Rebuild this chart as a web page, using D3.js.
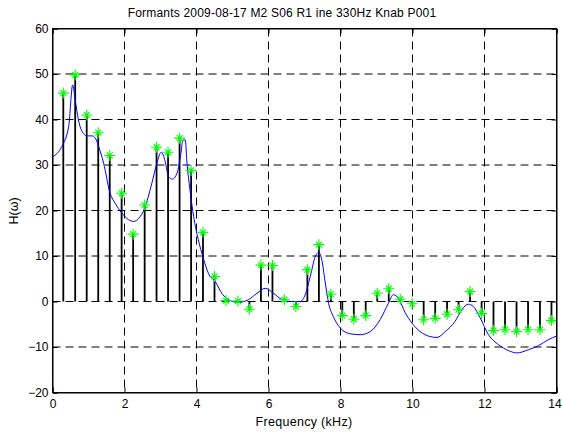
<!DOCTYPE html>
<html>
<head>
<meta charset="utf-8">
<script src="https://cdn.jsdelivr.net/npm/d3@7"></script>
<style>
	body { margin: 0; background: #fff; }
	text { font-family: "Liberation Sans", Arial, Helvetica, sans-serif; }
</style>
</head>
<body>
<script>
//harmonic frequencies (kHz) of the stems
var harmFreq = [0.30, 0.63, 0.95, 1.27, 1.59, 1.92, 2.24, 2.56, 2.89, 3.21,
	3.53, 3.85, 4.18, 4.50, 4.82, 5.15, 5.47, 5.79, 6.11, 6.44,
	6.76, 7.08, 7.40, 7.73, 8.05, 8.37, 8.70, 9.02, 9.34, 9.66,
	9.99, 10.31, 10.63, 10.96, 11.28, 11.60, 11.92, 12.25, 12.57, 12.89,
	13.21, 13.54, 13.86];

//stem heights
var harmAmp = [45.8, 49.8, 41.0, 37.1, 32.1, 23.8, 14.8, 21.2, 33.9, 32.8,
	35.9, 28.8, 15.2, 5.5, 0.2, 0.1, -1.7, 8.0, 7.9, 0.4,
	-1.1, 7.0, 12.5, 1.6, -3.1, -3.9, -3.1, 1.8, 2.8, 0.5,
	-0.5, -4.0, -3.7, -2.8, -1.8, 2.2, -2.6, -6.4, -6.2, -6.6,
	-6.2, -6.2, -4.2];

//envelope curve
var envFreq = [0, 0.26, 0.45, 0.56, 0.63, 0.72, 0.82, 0.96, 1.10, 1.19,
	1.28, 1.42, 1.60, 1.74, 1.93, 2.11, 2.25, 2.40, 2.55, 2.76,
	2.90, 3.02, 3.13, 3.22, 3.33, 3.46, 3.58, 3.62, 3.69, 3.73,
	3.83, 3.92, 4.05, 4.19, 4.33, 4.52, 4.72, 4.89, 5.17, 5.44,
	5.68, 5.91, 6.14, 6.38, 6.61, 6.88, 7.02, 7.16, 7.30, 7.39,
	7.48, 7.57, 7.67, 7.80, 7.99, 8.27, 8.55, 8.83, 9.10, 9.33,
	9.47, 9.61, 9.80, 9.98, 10.21, 10.49, 10.68, 10.91, 11.18, 11.37,
	11.55, 11.69, 11.88, 12.11, 12.39, 12.67, 12.90, 13.22, 13.50, 13.77, 14.0];
var envAmp = [31.8, 34.1, 38.5, 47.6, 44.3, 39.9, 37.4, 36.4, 36.4, 35.9,
	34.1, 30.4, 23.8, 21.6, 19.4, 18.0, 17.6, 18.3, 20.3, 26.0,
	30.4, 32.8, 30.8, 27.5, 26.9, 28.2, 33.3, 35.5, 35.5, 31.1,
	23.8, 18.7, 13.6, 9.5, 6.2, 4.4, 1.6, 0.4, -0.2, 0.4,
	1.8, 2.9, 1.8, 0.4, 0.0, 0.0, 1.5, 5.5, 9.9, 10.8,
	9.2, 4.5, -0.4, -3.3, -5.8, -7.1, -7.3, -6.6, -4.0, -0.4,
	1.5, 0.7, -2.5, -4.7, -6.6, -7.7, -7.9, -6.6, -4.4, -1.8,
	-0.6, -1.1, -3.6, -7.3, -9.5, -10.8, -11.3, -10.6, -9.7, -8.4, -7.6];

var xTicks = [0, 2, 4, 6, 8, 10, 12, 14];
var yTicks = [-20, -10, 0, 10, 20, 30, 40, 50, 60];

var titleText = "Formants 2009-08-17 M2 S06 R1 ine 330Hz Knab P001";

(function(){
	var width = 562,
		height = 432,
		plotLeft = 52.5,
		plotRight = 556.5,
		plotTop = 28.5,
		plotBottom = 392.5;

	var svg = d3.select("body")
		.append("svg")
		.attr("width", width)
		.attr("height", height);

	var x = d3.scaleLinear()
		.domain([0, 14])
		.range([plotLeft, plotRight]);

	var y = d3.scaleLinear()
		.domain([-20, 60])
		.range([plotBottom, plotTop]);

	//dashed grid
	var grid = svg.append("g").attr("class", "grid");
	grid.selectAll(".vgrid")
		.data(xTicks.slice(1, -1))
		.enter()
		.append("line")
		.attr("x1", function(d){ return x(d); })
		.attr("x2", function(d){ return x(d); })
		.attr("y1", plotTop)
		.attr("y2", plotBottom);
	grid.selectAll(".hgrid")
		.data(yTicks.slice(1, -1))
		.enter()
		.append("line")
		.attr("x1", plotLeft)
		.attr("x2", plotRight)
		.attr("y1", function(d){ return y(d); })
		.attr("y2", function(d){ return y(d); });
	grid.selectAll("line")
		.attr("stroke", "#000")
		.attr("stroke-width", 1)
		.attr("stroke-dasharray", "8,5");

	//stems
	svg.selectAll(".stem")
		.data(harmAmp)
		.enter()
		.append("line")
		.attr("class", "stem")
		.attr("x1", function(d, i){ return x(harmFreq[i]); })
		.attr("x2", function(d, i){ return x(harmFreq[i]); })
		.attr("y1", y(0))
		.attr("y2", function(d){ return y(d); })
		.attr("stroke", "#000")
		.attr("stroke-width", 1.8);

	//envelope
	var line = d3.line()
		.x(function(d, i){ return x(envFreq[i]); })
		.y(function(d){ return y(d); })
		.curve(d3.curveMonotoneX);

	svg.append("path")
		.datum(envAmp)
		.attr("d", line)
		.attr("fill", "none")
		.attr("stroke", "#0000ff")
		.attr("stroke-width", 1);

	//star markers
	var star = "M-5.5,0H5.5M0,-5.5V5.5M-3,-3L3,3M-3,3L3,-3";
	svg.selectAll(".marker")
		.data(harmAmp)
		.enter()
		.append("path")
		.attr("class", "marker")
		.attr("transform", function(d, i){
			return "translate(" + x(harmFreq[i]) + "," + y(d) + ")";
		})
		.attr("d", star)
		.attr("stroke", "#00ff00")
		.attr("stroke-width", 1.1)
		.attr("fill", "none");

	//axes, ticks inside
	var xAxis = d3.axisBottom(x)
		.tickValues(xTicks)
		.tickSize(-5)
		.tickPadding(7);
	var xAxisTop = d3.axisTop(x)
		.tickValues(xTicks)
		.tickSize(-5)
		.tickFormat("");
	var yAxis = d3.axisLeft(y)
		.tickValues(yTicks)
		.tickSize(-5)
		.tickPadding(4);
	var yAxisRight = d3.axisRight(y)
		.tickValues(yTicks)
		.tickSize(-5)
		.tickFormat("");

	var xAxisG = svg.append("g").attr("transform", "translate(0," + plotBottom + ")").call(xAxis);
	svg.append("g").attr("transform", "translate(0," + plotTop + ")").call(xAxisTop);
	svg.append("g").attr("transform", "translate(" + plotLeft + ",0)").call(yAxis);
	svg.append("g").attr("transform", "translate(" + plotRight + ",0)").call(yAxisRight);

	svg.selectAll(".domain").attr("stroke", "#000");
	svg.selectAll(".tick line").attr("stroke", "#000");
	svg.selectAll(".tick text")
		.attr("fill", "#000")
		.style("font-size", "12px")
		.style("font-family", "'Liberation Sans', Arial, sans-serif");

	//keep the last x label inside the window
	xAxisG.selectAll(".tick text")
		.filter(function(d){ return d === 14; })
		.attr("dx", -2);

	//box
	svg.append("rect")
		.attr("x", plotLeft)
		.attr("y", plotTop)
		.attr("width", plotRight - plotLeft)
		.attr("height", plotBottom - plotTop)
		.attr("fill", "none")
		.attr("stroke", "#000")
		.attr("stroke-width", 1);

	//labels
	svg.append("text")
		.attr("x", 282)
		.attr("y", 17)
		.attr("text-anchor", "middle")
		.style("font-size", "12px")
		.style("letter-spacing", "0.2px")
		.text(titleText);

	svg.append("text")
		.attr("x", 304)
		.attr("y", 426)
		.attr("text-anchor", "middle")
		.style("font-size", "12.5px")
		.style("letter-spacing", "0.3px")
		.text("Frequency (kHz)");

	svg.append("text")
		.attr("transform", "translate(18,211)rotate(-90)")
		.attr("text-anchor", "middle")
		.style("font-size", "12.5px")
		.text("H(ω)");
})();
</script>
</body>
</html>
